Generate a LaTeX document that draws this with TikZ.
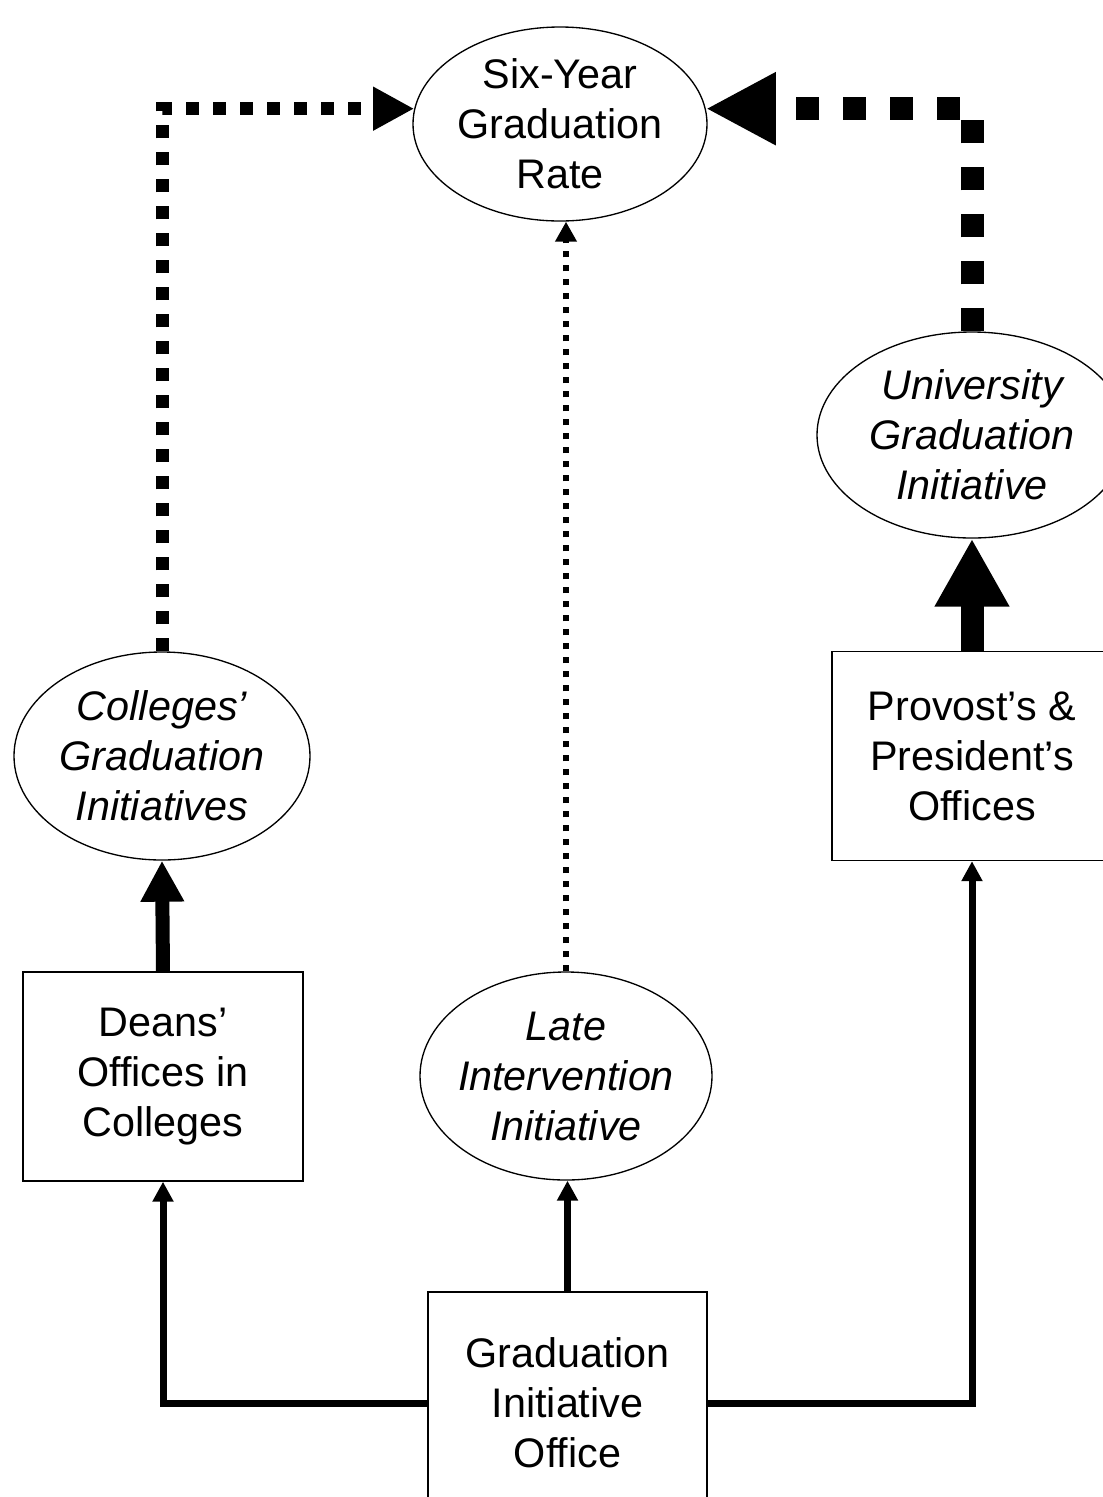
\documentclass[tikz,border=0pt]{standalone}
\usepackage{fontspec}
\setmainfont{Liberation Sans}
\usetikzlibrary{arrows.meta}
\usetikzlibrary{shapes.geometric}

\newcommand\labelsize{\fontsize{31}{37.5}\selectfont}

\tikzset{
  box/.style={draw, line width=1pt, minimum width=210pt, minimum height=156.75pt, inner sep=0pt, align=center},
  oval/.style={draw, ellipse, line width=1pt, inner sep=-20pt, align=center},
  slanted/.style={font=\labelsize\itshape},
  link/.style={line width=5.25pt, -{Triangle[length=15pt,width=15pt]}},
  push/.style={line width=10.5pt, -{Triangle[length=30.75pt,width=30.75pt]}},
  bigpush/.style={line width=17.25pt, -{Triangle[length=51pt,width=52.5pt]}},
  finedots/.style={line width=4.5pt, dash pattern=on 4.5pt off 6pt, -{Triangle[length=15pt,width=15.5pt]}},
  bigdots/.style={line width=9.75pt, dash pattern=on 9.75pt off 10.5pt, -{Triangle[length=30.75pt,width=30.75pt]}},
  bigdash/.style={line width=17.25pt, dash pattern=on 17.25pt off 18pt, -{Triangle[length=52.5pt,width=51pt]}}
}

\begin{document}
\begin{tikzpicture}[x=0.75pt,y=0.75pt,yscale=-1,xscale=1,
  font=\labelsize]
\useasboundingbox (0,0) rectangle (1103,1497);

%Ellipses
\node [oval, minimum width=220.5pt, minimum height=145.5pt] (rate) at (560,124) {Six-Year\\Graduation\\Rate};
\node [oval, slanted, minimum width=222pt, minimum height=156pt] (colleges) at (162,756) {Colleges’\\Graduation\\Initiatives};
\node [oval, slanted, minimum width=232.5pt, minimum height=154.5pt] (university) at (972,435) {University\\Graduation\\Initiative};
\node [oval, slanted, minimum width=219pt, minimum height=156pt] (late) at (566,1076) {Late\\Intervention\\Initiative};

%Boxes
\node [box] (deans) at (163,1076.5) {Deans’\\Offices in\\Colleges};
\node [box] (provost) at (972,756) {Provost’s \&\\President’s\\Offices};
\node [box, minimum width=209.25pt, minimum height=166.5pt] (office) at (567.5,1403) {Graduation\\Initiative\\Office};

%Solid connectors
\draw [link] (office.west) -| (deans.south);
\draw [link] (office.east) -| (provost.south);
\draw [link] (office.north) -- (office.north |- late.south);
\draw [push] (deans.north) -- (colleges.south);
\draw [bigpush] (provost.north) -- (university.south);

%Dotted connectors
\draw [finedots] (late.north) -- (late.north |- rate.south);
\draw [bigdots] (colleges.north) |- (rate.174);
\draw [bigdash] (university.north) |- (rate.6);

\end{tikzpicture}
\end{document}
